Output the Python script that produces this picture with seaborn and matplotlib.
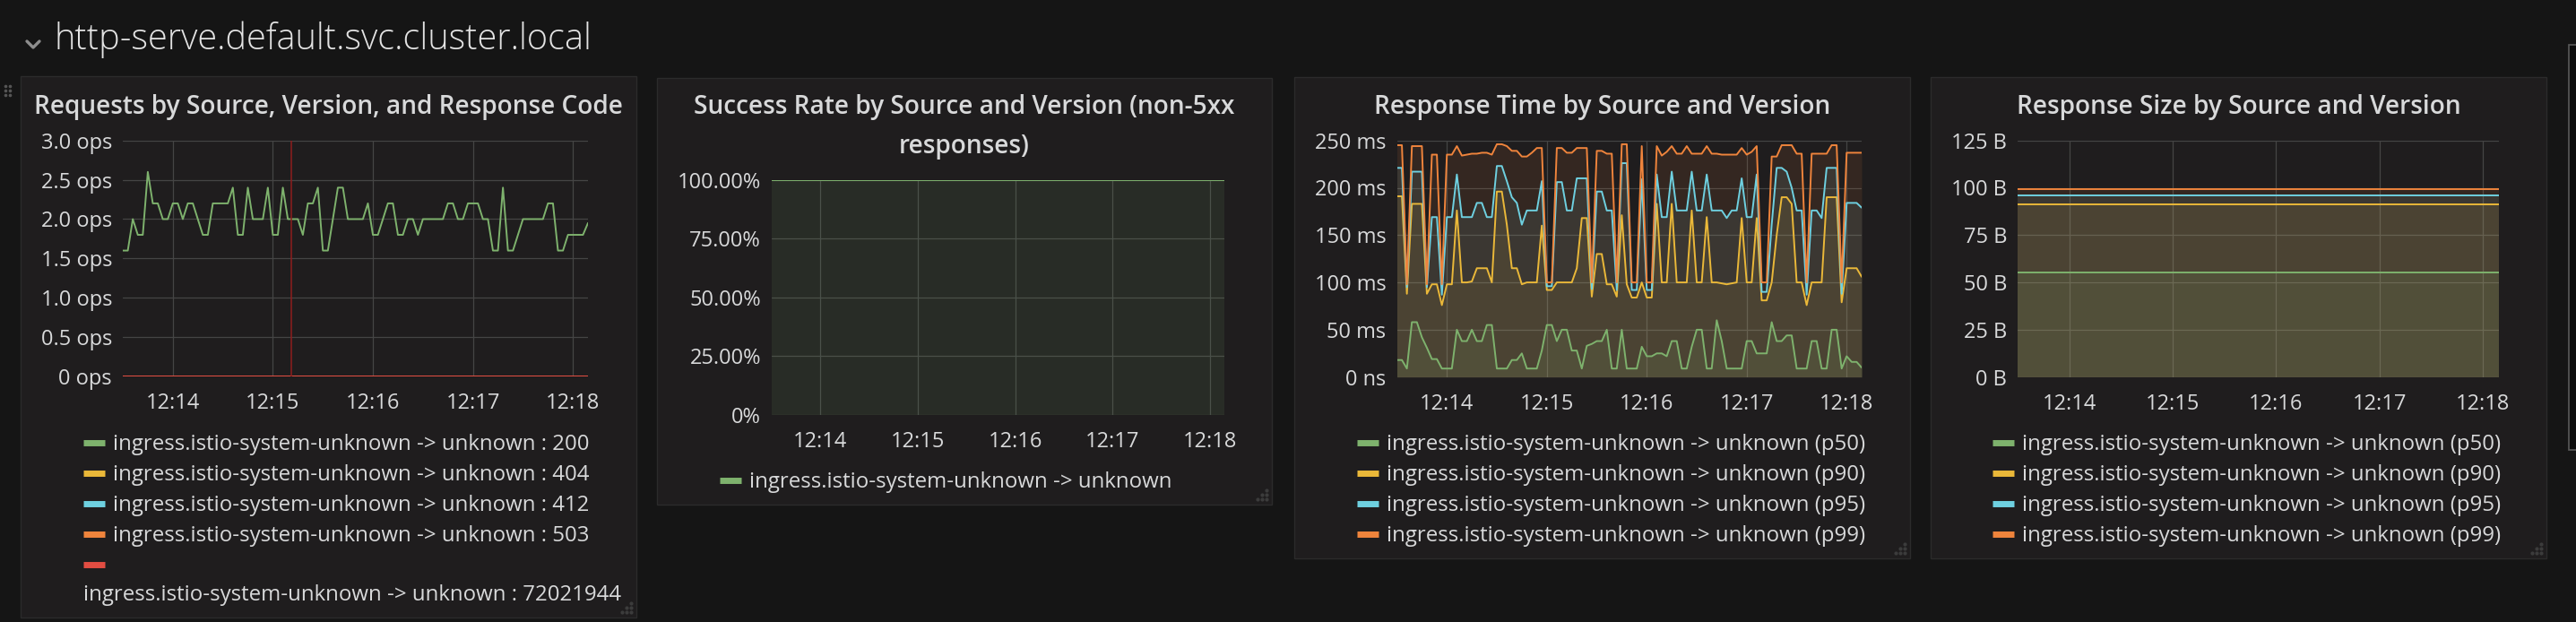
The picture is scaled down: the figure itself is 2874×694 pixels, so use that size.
import pandas as pd
import seaborn as sns
import matplotlib.pyplot as plt
import matplotlib.dates as mdates
from matplotlib.lines import Line2D
from matplotlib.patches import Rectangle

# samples, one every 3 s from 12:13:30 to 12:18:09
t_start = "2018-03-01 12:13:30"
t_end = "2018-03-01 12:18:09"
annotation_at = "2018-03-01 12:15:11"

# Requests by Source, Version, and Response Code (ops)
req_200 = [1.6, 1.6, 2.0, 1.8, 1.8, 2.6, 2.2, 2.2, 2.0, 2.0,
           2.2, 2.2, 2.0, 2.2, 2.2, 2.0, 1.8, 1.8, 2.2, 2.2,
           2.2, 2.2, 2.4, 1.8, 1.8, 2.4, 2.0, 2.0, 2.0, 2.4,
           1.8, 1.8, 2.4, 2.0, 2.0, 2.0, 1.8, 2.2, 2.2, 2.4,
           1.6, 1.6, 2.0, 2.4, 2.4, 2.0, 2.0, 2.0, 2.0, 2.2,
           1.8, 1.8, 2.0, 2.2, 2.2, 1.8, 1.8, 2.0, 2.0, 1.8,
           2.0, 2.0, 2.0, 2.0, 2.0, 2.2, 2.2, 2.0, 2.0, 2.2,
           2.2, 2.2, 2.0, 2.0, 1.6, 1.6, 2.4, 1.6, 1.6, 1.8,
           2.0, 2.0, 2.0, 2.0, 2.0, 2.2, 2.2, 1.6, 1.6, 1.8,
           1.8, 1.8, 1.8, 1.95]
req_404 = [0, 0]
req_412 = [0, 0]
req_503 = [0, 0]
req_72021944 = [0, 0]

# Success Rate (%)
success_rate = [100.0, 100.0]

# Response Time (ms)
rt_p50 = [18, 18, 9, 58, 58, 42, 31, 19, 19, 9,
          9, 9, 50, 38, 38, 50, 38, 38, 55, 55,
          9, 9, 9, 18, 18, 25, 9, 9, 9, 28,
          55, 55, 38, 50, 50, 28, 28, 9, 33, 35,
          38, 38, 50, 9, 9, 50, 9, 9, 9, 32,
          22, 22, 25, 25, 22, 38, 38, 9, 9, 32,
          50, 50, 9, 9, 60, 38, 9, 9, 9, 9,
          38, 38, 25, 25, 25, 58, 38, 38, 44, 44,
          9, 9, 9, 38, 38, 9, 9, 50, 50, 9,
          22, 16, 16, 10]
rt_p90 = [191, 191, 88, 183, 183, 183, 88, 98, 98, 76,
          98, 98, 176, 100, 100, 101, 115, 115, 115, 100,
          196, 196, 161, 115, 115, 98, 100, 100, 100, 160,
          92, 92, 100, 100, 100, 100, 115, 168, 168, 85,
          130, 130, 98, 98, 85, 171, 98, 84, 84, 100,
          84, 84, 183, 100, 100, 183, 100, 100, 100, 176,
          100, 100, 169, 100, 100, 99, 98, 99, 100, 168,
          100, 100, 168, 81, 81, 100, 150, 190, 190, 183,
          100, 100, 76, 100, 100, 100, 190, 190, 190, 79,
          115, 115, 115, 106]
rt_p95 = [221, 221, 95, 217, 217, 217, 95, 169, 169, 87,
          169, 169, 214, 169, 169, 169, 184, 184, 169, 169,
          223, 223, 207, 190, 184, 161, 176, 176, 176, 207,
          96, 96, 206, 206, 176, 176, 210, 210, 210, 93,
          196, 196, 176, 176, 92, 226, 226, 92, 92, 209,
          92, 92, 214, 169, 169, 217, 176, 176, 176, 217,
          176, 176, 214, 176, 176, 176, 168, 176, 176, 210,
          169, 169, 214, 90, 90, 161, 221, 221, 217, 200,
          176, 176, 87, 176, 176, 168, 221, 221, 221, 88,
          184, 184, 184, 179]
rt_p99 = [245, 245, 98, 244, 244, 244, 98, 235, 235, 98,
          235, 235, 244, 234, 235, 236, 236, 237, 237, 235,
          246, 246, 244, 239, 239, 233, 233, 237, 242, 242,
          100, 100, 242, 242, 237, 237, 242, 242, 242, 100,
          239, 239, 236, 236, 100, 246, 246, 100, 100, 244,
          100, 100, 244, 234, 238, 244, 236, 236, 244, 236,
          236, 236, 244, 236, 236, 235, 235, 235, 235, 242,
          235, 238, 244, 100, 100, 233, 233, 245, 245, 245,
          236, 236, 100, 236, 236, 236, 236, 245, 245, 100,
          237, 237, 237, 237]

# Response Size (B)
size_p50 = [55.2, 55.2]
size_p90 = [91.4, 91.4]
size_p95 = [96.1, 96.1]
size_p99 = [99.4, 99.4]

src = "ingress.istio-system-unknown -> unknown"
codes = ["200", "404", "412", "503", "72021944"]
quantiles = ["p50", "p90", "p95", "p99"]

GREEN, YELLOW, BLUE, ORANGE, RED = "#7eb26d", "#eab839", "#6ed0e0", "#ef843c", "#e24d42"
PAGE, PANEL, BORDER = "#151515", "#1f1d1e", "#2b2b2b"
TEXT, GRID = "#d8d9da", "#454545"

sns.set_theme(style="dark")
plt.rcParams["font.family"] = ["Open Sans", "DejaVu Sans"]

W, H = 2874, 694
fig = plt.figure(figsize=(W / 100, H / 100), dpi=100, facecolor=PAGE)

times = pd.date_range(t_start, t_end, freq="3s")
edges = pd.to_datetime([t_start, t_end])

# page layer, in pixel coordinates
bg = fig.add_axes([0, 0, 1, 1])
bg.set_xlim(0, W)
bg.set_ylim(H, 0)
bg.axis("off")

bg.text(60, 44, "http-serve.default.svc.cluster.local", color="#e3e3e3",
        fontsize=28.6, fontweight="light", va="center", ha="left")
bg.plot([30, 37, 44], [46, 53, 46], color="#8e8e8e", lw=2.4, solid_capstyle="round")
for dy in (96, 101, 106):
    bg.plot([6, 11], [dy, dy], ls="none", marker="o", ms=1.6, color="#555555")

panels = [(23, 85, 710, 689), (733, 87, 1419, 563), (1444, 86, 2131, 623), (2154, 86, 2841, 623)]
for x0, y0, x1, y1 in panels:
    bg.add_patch(Rectangle((x0, y0), x1 - x0, y1 - y0, facecolor=PANEL, edgecolor=BORDER, lw=1))
    for dx, dy in [(0, 0), (-5, 0), (-10, 0), (0, -5), (-5, -5), (0, -10)]:
        bg.plot(x1 - 6 + dx, y1 - 6 + dy, marker="o", ms=2, color="#3c3c3c")

# scrollbar at the right edge
bg.add_patch(Rectangle((2866, 50), 20, 452, facecolor="#0d0d0d", edgecolor="#5a5a5a", lw=1.2))

title_kw = dict(color=TEXT, fontsize=20.2, fontweight="semibold", ha="center", va="center")
bg.text(366.5, 119, "Requests by Source, Version, and Response Code", **title_kw)
bg.text(1076, 119, "Success Rate by Source and Version (non-5xx", **title_kw)
bg.text(1076, 163, "responses)", **title_kw)
bg.text(1787.5, 119, "Response Time by Source and Version", **title_kw)
bg.text(2497.5, 119, "Response Size by Source and Version", **title_kw)


def px_axes(x0, y0, x1, y1):
    return fig.add_axes([x0 / W, 1 - y1 / H, (x1 - x0) / W, (y1 - y0) / H])


def style(ax, ymax, step, fmt):
    ax.set_facecolor("none")
    ax.set_xlim(times[0], times[-1])
    ax.set_ylim(0, ymax)
    ticks = [i * step for i in range(int(round(ymax / step)) + 1)]
    ax.set_yticks(ticks)
    ax.set_yticklabels([fmt(v) for v in ticks])
    ax.xaxis.set_major_locator(mdates.MinuteLocator())
    ax.xaxis.set_major_formatter(mdates.DateFormatter("%H:%M"))
    ax.grid(True, color=GRID, lw=0.9)
    ax.set_axisbelow(True)
    ax.tick_params(axis="both", length=0, colors=TEXT, labelsize=17)
    ax.tick_params(axis="x", pad=13)
    ax.tick_params(axis="y", pad=8.6)
    for s in ax.spines.values():
        s.set_visible(False)
    ax.set_xlabel("")
    ax.set_ylabel("")


def legend(ax, labels, colors, x, y):
    handles = [Line2D([], [], color=c, lw=5, solid_capstyle="butt") for c in colors]
    ax.legend(handles, labels, loc="upper left", bbox_to_anchor=(x / W, 1 - y / H),
              bbox_transform=fig.transFigure, frameon=False, fontsize=17.3,
              labelcolor=TEXT, handlelength=1.0, handletextpad=0.38,
              labelspacing=0.42, borderpad=0, borderaxespad=0)


# Requests
ax1 = px_axes(137, 156.7, 656, 420)
req_df = pd.concat([
    pd.DataFrame({"time": times, "ops": req_200, "code": "200"}),
    pd.DataFrame({"time": edges, "ops": req_404, "code": "404"}),
    pd.DataFrame({"time": edges, "ops": req_412, "code": "412"}),
    pd.DataFrame({"time": edges, "ops": req_503, "code": "503"}),
    pd.DataFrame({"time": edges, "ops": req_72021944, "code": "72021944"}),
], ignore_index=True)
sns.lineplot(data=req_df, x="time", y="ops", hue="code", hue_order=codes,
             palette=[GREEN, YELLOW, BLUE, ORANGE, RED], linewidth=1.4, legend=False, ax=ax1)
ax1.axvline(pd.Timestamp(annotation_at), color="#8f1d1d", lw=1.1)
style(ax1, 3.0, 0.5, lambda v: "0 ops" if v == 0 else f"{v:.1f} ops")
legend(ax1, [f"{src} : {c}" for c in codes[:4]] + [" "],
       [GREEN, YELLOW, BLUE, ORANGE, RED], 93, 484)
bg.text(93, 664, f"{src} : {codes[4]}", color=TEXT, fontsize=17.3, va="center", ha="left")

# Success rate
ax2 = px_axes(861, 200.7, 1366, 462.7)
sr_df = pd.DataFrame({"time": edges, "rate": success_rate})
ax2.fill_between(sr_df["time"], 0, sr_df["rate"], color=GREEN, alpha=0.1, lw=0)
sns.lineplot(data=sr_df, x="time", y="rate", color=GREEN, linewidth=1.4, ax=ax2)
style(ax2, 100, 25, lambda v: "0%" if v == 0 else f"{v:.2f}%")
legend(ax2, [src], [GREEN], 803, 526)

# Response time
ax3 = px_axes(1558.5, 156.7, 2077, 420.7)
rt_df = pd.concat([
    pd.DataFrame({"time": times, "ms": vals, "q": q})
    for q, vals in zip(quantiles, [rt_p50, rt_p90, rt_p95, rt_p99])
], ignore_index=True)
q_colors = [GREEN, YELLOW, BLUE, ORANGE]
for q, c in zip(quantiles, q_colors):
    part = rt_df[rt_df["q"] == q]
    ax3.fill_between(part["time"], 0, part["ms"], color=c, alpha=0.1, lw=0)
sns.lineplot(data=rt_df, x="time", y="ms", hue="q", hue_order=quantiles,
             palette=q_colors, linewidth=1.4, legend=False, ax=ax3)
style(ax3, 250, 50, lambda v: "0 ns" if v == 0 else f"{v:.0f} ms")
legend(ax3, [f"{src} ({q})" for q in quantiles], q_colors, 1513.5, 484)

# Response size
ax4 = px_axes(2251, 156.7, 2787.5, 420.7)
size_df = pd.concat([
    pd.DataFrame({"time": edges, "bytes": vals, "q": q})
    for q, vals in zip(quantiles, [size_p50, size_p90, size_p95, size_p99])
], ignore_index=True)
for q, c in zip(quantiles, q_colors):
    part = size_df[size_df["q"] == q]
    ax4.fill_between(part["time"], 0, part["bytes"], color=c, alpha=0.1, lw=0)
sns.lineplot(data=size_df, x="time", y="bytes", hue="q", hue_order=quantiles,
             palette=q_colors, linewidth=1.4, legend=False, ax=ax4)
style(ax4, 125, 25, lambda v: f"{v:.0f} B")
legend(ax4, [f"{src} ({q})" for q in quantiles], q_colors, 2223, 484)

fig.savefig("out.png", dpi=100, facecolor=PAGE)
